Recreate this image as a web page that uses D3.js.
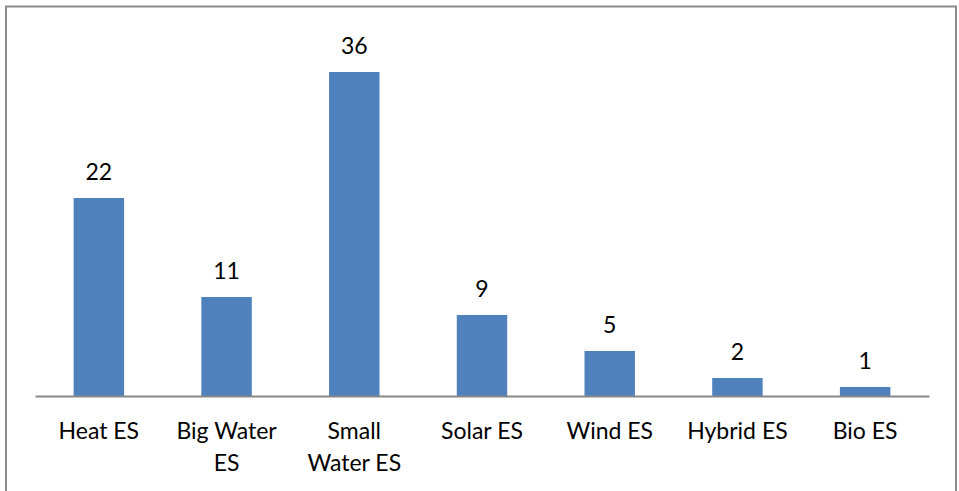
<!DOCTYPE html>
<html>
<head>
<meta charset="utf-8">
<script src="https://cdn.jsdelivr.net/npm/d3@7"></script>
<style>
  html, body { margin: 0; padding: 0; background: #ffffff; }
  svg { display: block; }
  text { font-family: Lato, "Open Sans", sans-serif; fill: #000; }
</style>
</head>
<body>
<script>
// Number of energy stations by type
const categories = ["Heat ES", "Big Water ES", "Small Water ES", "Solar ES", "Wind ES", "Hybrid ES", "Bio ES"];
const labelLines = [["Heat ES"], ["Big Water", "ES"], ["Small", "Water ES"], ["Solar ES"], ["Wind ES"], ["Hybrid ES"], ["Bio ES"]];
const values = [22, 11, 36, 9, 5, 2, 1];

const W = 959, H = 491;
const svg = d3.select("body").append("svg").attr("width", W).attr("height", H);

// outer chart frame
svg.append("rect")
  .attr("x", 6).attr("y", 6.5)
  .attr("width", 950).attr("height", 500)
  .attr("fill", "none")
  .attr("stroke", "#8c8c8c")
  .attr("stroke-width", 2);

const plotLeft = 35, plotRight = 929, baseY = 396;

const x = d3.scaleBand()
  .domain(categories)
  .range([plotLeft, plotRight])
  .paddingInner(0.605)
  .paddingOuter(0.3025);

const y = d3.scaleLinear()
  .domain([0, 36])
  .range([baseY, baseY - 324]);

// bars
svg.append("g").selectAll("rect")
  .data(values)
  .join("rect")
  .attr("x", (d, i) => x(categories[i]))
  .attr("y", d => y(d))
  .attr("width", x.bandwidth())
  .attr("height", d => y(0) - y(d))
  .attr("fill", "#4f81bd");

// value labels
svg.append("g").selectAll("text")
  .data(values)
  .join("text")
  .attr("x", (d, i) => x(categories[i]) + x.bandwidth() / 2)
  .attr("y", d => y(d) - 18)
  .attr("text-anchor", "middle")
  .attr("font-size", 23)
  .text(d => d);

// category axis
const axis = svg.append("g")
  .attr("transform", `translate(0,${baseY})`)
  .call(d3.axisBottom(x).tickSize(0).tickFormat(""));
axis.select(".domain").attr("stroke", "#878787").attr("stroke-width", 2);

// category labels (wrapped)
const lab = svg.append("g").selectAll("text")
  .data(categories)
  .join("text")
  .attr("x", d => x(d) + x.bandwidth() / 2)
  .attr("y", 438.5)
  .attr("text-anchor", "middle")
  .attr("font-size", 23);
lab.each(function(d, i) {
  d3.select(this).selectAll("tspan")
    .data(labelLines[i])
    .join("tspan")
    .attr("x", x(d) + x.bandwidth() / 2)
    .attr("dy", (t, j) => j === 0 ? 0 : 32.5)
    .text(t => t);
});
</script>
</body>
</html>
